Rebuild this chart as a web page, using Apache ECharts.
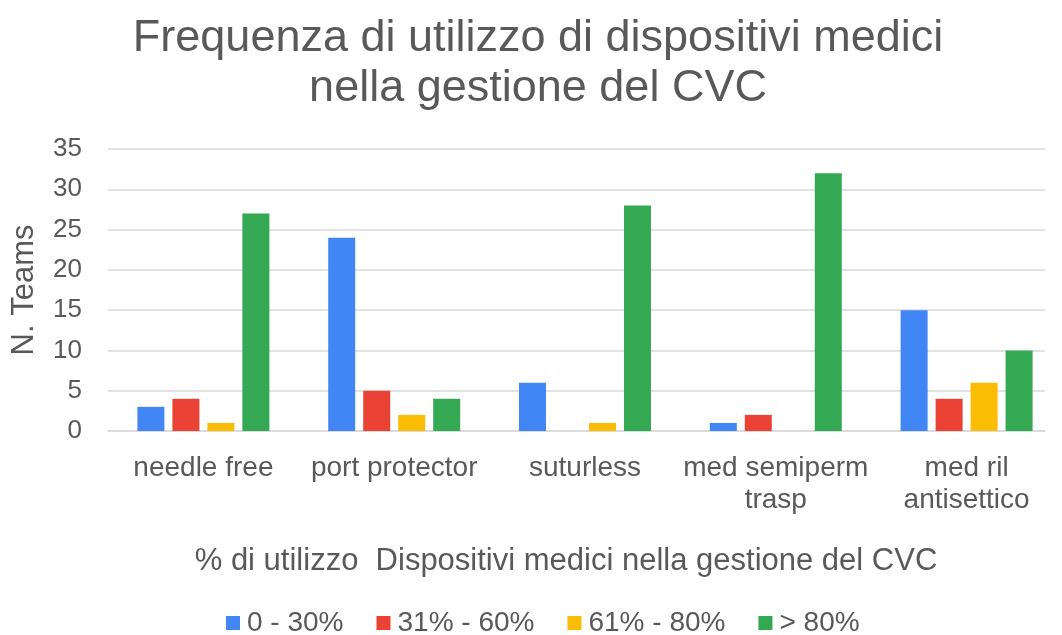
<!DOCTYPE html>
<html>
<head>
<meta charset="utf-8">
<script src="https://cdn.jsdelivr.net/npm/echarts@6/dist/echarts.min.js"></script>
<style>
  html, body { margin: 0; padding: 0; background: #fff; }
  #chart { width: 1062px; height: 635px; }
</style>
</head>
<body>
<div id="chart"></div>
<script>
const categories = ['needle free', 'port protector', 'suturless', 'med semiperm\ntrasp', 'med ril\nantisettico']
const seriesNames = ['0 - 30%', '31% - 60%', '61% - 80%', '> 80%']
const use0to30 = [3, 24, 6, 1, 15]
const use31to60 = [4, 5, 0, 2, 4]
const use61to80 = [1, 2, 1, 0, 6]
const useOver80 = [27, 4, 28, 32, 10]
const colors = ['#4285F4', '#EA4335', '#FBBC04', '#34A853']

const chart = echarts.init(document.getElementById('chart'))
const font = 'Liberation Sans, Arial, sans-serif'
const grey = '#595959'

// grid 0 carries the gridlines / y labels, grid 1 the bars (its band runs past the right edge like the original)
const option = {
  color: colors,
  textStyle: { fontFamily: font },
  title: {
    text: 'Frequenza di utilizzo di dispositivi medici\nnella gestione del CVC',
    left: 538,
    textAlign: 'center',
    top: 14,
    padding: 0,
    textStyle: { fontFamily: font, fontSize: 45, fontWeight: 'normal', color: grey, lineHeight: 50 }
  },
  legend: {
    top: 609,
    left: 226,
    padding: 0,
    itemWidth: 14,
    itemHeight: 14,
    itemGap: 33,
    icon: 'rect',
    textStyle: { fontFamily: font, fontSize: 28, color: grey, padding: [0, 0, 0, 2] },
    data: seriesNames
  },
  grid: [
    { left: 108, width: 937, top: 149, height: 282 },
    { left: 108, width: 967, top: 149, height: 282 }
  ],
  xAxis: [
    {
      type: 'category',
      gridIndex: 0,
      data: categories,
      name: '% di utilizzo  Dispositivi medici nella gestione del CVC',
      nameLocation: 'middle',
      nameGap: 115,
      nameTextStyle: { fontFamily: font, fontSize: 31, color: grey, padding: [0, 21, 0, 0] },
      axisLine: { show: true, lineStyle: { color: '#d9d9d9', width: 1.5 } },
      axisTick: { show: false },
      axisLabel: { show: false }
    },
    {
      type: 'category',
      gridIndex: 1,
      data: categories,
      axisLine: { show: false },
      axisTick: { show: false },
      axisLabel: { fontFamily: font, fontSize: 28, color: grey, margin: 21, lineHeight: 32, interval: 0 }
    }
  ],
  yAxis: [
    {
      type: 'value',
      gridIndex: 0,
      min: 0,
      max: 35,
      interval: 5,
      name: 'N. Teams',
      nameLocation: 'middle',
      nameGap: 68,
      nameTextStyle: { fontFamily: font, fontSize: 31, color: grey },
      axisLine: { show: false },
      axisTick: { show: false },
      axisLabel: { fontFamily: font, fontSize: 26, color: grey, margin: 26 },
      splitLine: { lineStyle: { color: '#d9d9d9', width: 1.5 } }
    },
    {
      type: 'value',
      gridIndex: 1,
      min: 0,
      max: 35,
      interval: 5,
      show: false
    }
  ],
  series: [use0to30, use31to60, use61to80, useOver80].map((d, i) => ({
    name: seriesNames[i],
    type: 'bar',
    xAxisIndex: 1,
    yAxisIndex: 1,
    data: d,
    barWidth: 27,
    barGap: '29.6%'
  }))
}
chart.setOption(option)
</script>
</body>
</html>
